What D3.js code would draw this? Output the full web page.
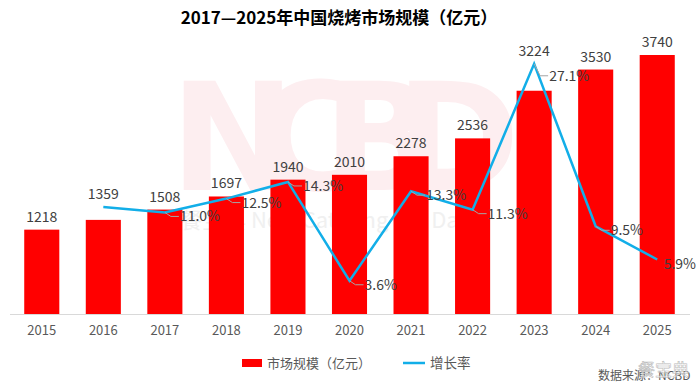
<!DOCTYPE html>
<html>
<head>
<meta charset="utf-8">
<script src="https://cdn.jsdelivr.net/npm/d3@7"></script>
<style>
  body { margin: 0; background: #fff; }
  svg { display: block; font-family: "Noto Sans CJK SC", "Open Sans", sans-serif; }
</style>
</head>
<body>
<svg id="chart"></svg>
<script>
const years = ["2015", "2016", "2017", "2018", "2019", "2020", "2021", "2022", "2023", "2024", "2025"];
const marketSize = [1218, 1359, 1508, 1697, 1940, 2010, 2278, 2536, 3224, 3530, 3740];
const growthRate = [null, 11.6, 11.0, 12.5, 14.3, 3.6, 13.3, 11.3, 27.1, 9.5, 5.9];
const growthLabels = ["", "", "11.0%", "12.5%", "14.3%", "3.6%", "13.3%", "11.3%", "27.1%", "9.5%", "5.9%"];

const width = 700, height = 384;
const baseY = 314, topY = 37;

const svg = d3.select("#chart").attr("width", width).attr("height", height);

// background watermark
svg.append("text")
    .attr("x", 345).attr("y", 190)
    .attr("text-anchor", "middle")
    .style("font-family", "'DejaVu Sans', sans-serif")
    .style("font-weight", "bold")
    .style("font-size", "150px")
    .attr("fill", "#fdeef0")
    .attr("textLength", 350)
    .text("NCBD");

svg.append("text")
    .attr("x", 180).attr("y", 228)
    .style("font-size", "22px")
    .attr("fill", "#f0f0f0")
    .text("餐宝典     New Catering Big Data");

const x = d3.scaleBand()
    .domain(years)
    .range([11, 688])
    .paddingInner(0.43)
    .paddingOuter(0.215);

const yBar = d3.scaleLinear().domain([0, 4000]).range([baseY, topY]);
const yLine = d3.scaleLinear().domain([0, 30]).range([baseY, topY]);

const data = years.map((y, i) => ({year: y, size: marketSize[i], rate: growthRate[i], label: growthLabels[i]}));
const cx = d => x(d.year) + x.bandwidth() / 2;

// bars
svg.selectAll(".bar")
    .data(data)
    .enter().append("rect")
    .attr("class", "bar")
    .attr("x", d => x(d.year))
    .attr("y", d => yBar(d.size))
    .attr("width", x.bandwidth())
    .attr("height", d => baseY - yBar(d.size))
    .attr("fill", "#ff0000");

// x axis
const xAxis = svg.append("g")
    .attr("transform", `translate(0,${baseY})`)
    .call(d3.axisBottom(x).tickSize(0).tickPadding(12));
xAxis.select(".domain").attr("d", "M10,0.5H690").attr("stroke", "#d9d9d9");
xAxis.selectAll("text")
    .style("font-family", "'Noto Sans CJK SC', sans-serif")
    .style("font-size", "13px")
    .attr("fill", "#595959");

// growth line
const lineData = data.filter(d => d.rate != null);
const line = d3.line()
    .x(cx)
    .y(d => yLine(d.rate));

svg.append("path")
    .datum(lineData)
    .attr("d", line)
    .attr("fill", "none")
    .attr("stroke", "#12aee8")
    .attr("stroke-width", 2.5)
    .attr("stroke-linejoin", "miter");

// bar value labels
svg.selectAll(".val")
    .data(data)
    .enter().append("text")
    .attr("class", "val")
    .attr("x", cx)
    .attr("y", d => {
        let top = yBar(d.size);
        if (d.rate != null && yLine(d.rate) < top) top = yLine(d.rate);
        return top - 8;
    })
    .attr("text-anchor", "middle")
    .style("font-size", "14px")
    .attr("fill", "#404040")
    .text(d => d.size);

// growth labels with leader lines
const rateLabels = lineData.filter(d => d.label !== "");
// push the label below when the point sits above its bar
const labelY = d => yLine(d.rate) + (yLine(d.rate) < yBar(d.size) ? 17 : 9);

const leaders = svg.append("g");
const rateText = svg.selectAll(".rate")
    .data(rateLabels)
    .enter().append("text")
    .attr("class", "rate")
    .attr("x", d => cx(d) + 15)
    .attr("y", labelY)
    .style("font-size", "14px")
    .attr("fill", "#404040")
    .text(d => d.label);

rateText.each(function(d) {
    const w = this.getComputedTextLength();
    const px = cx(d), py = yLine(d.rate);
    if (px + 15 + w > 696) {
        // no room on the right: slide the label in, no leader line
        this.setAttribute("x", 696 - w);
        return;
    }
    leaders.append("path")
        .attr("d", `M${px},${py}L${px + 6},${labelY(d) - 5}H${px + 14}`)
        .attr("fill", "none")
        .attr("stroke", "#a6a6a6")
        .attr("stroke-width", 1);
});

// title
svg.append("text")
    .attr("x", 339).attr("y", 24)
    .attr("text-anchor", "middle")
    .style("font-size", "17px")
    .style("font-weight", "bold")
    .attr("fill", "#000")
    .text("2017—2025年中国烧烤市场规模（亿元）");

// legend
const legend = svg.append("g");
legend.append("rect")
    .attr("x", 242).attr("y", 359).attr("width", 20).attr("height", 8)
    .attr("fill", "#ff0000");
legend.append("text")
    .attr("x", 267).attr("y", 368)
    .style("font-size", "13px")
    .attr("fill", "#595959")
    .text("市场规模（亿元）");
legend.append("line")
    .attr("x1", 403).attr("x2", 425).attr("y1", 363).attr("y2", 363)
    .attr("stroke", "#12aee8").attr("stroke-width", 2.5);
legend.append("text")
    .attr("x", 430).attr("y", 368)
    .style("font-size", "13.5px")
    .attr("fill", "#595959")
    .text("增长率");

// source
svg.append("text")
    .attr("x", 598).attr("y", 380)
    .style("font-size", "12px")
    .attr("fill", "#595959")
    .text("数据来源：NCBD");
svg.append("text")
    .attr("x", 638).attr("y", 376)
    .style("font-size", "17px")
    .attr("fill", "#ffffff")
    .attr("fill-opacity", 0.6)
    .attr("stroke", "#bbbbbb")
    .attr("stroke-width", 0.6)
    .text("餐宝典");
</script>
</body>
</html>
